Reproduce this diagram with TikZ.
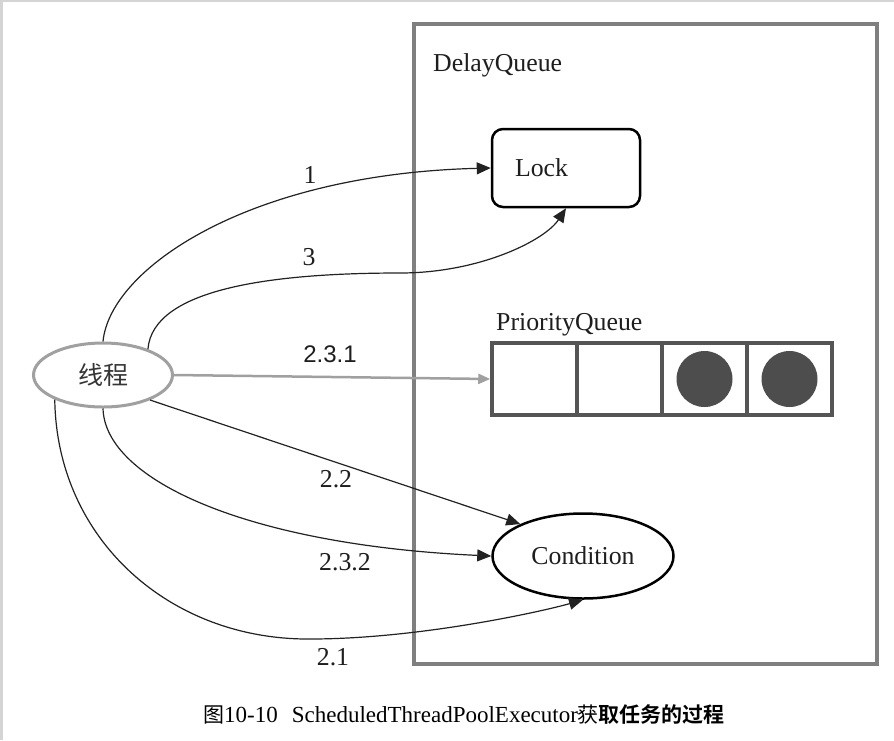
\documentclass[tikz,border=0pt]{standalone}
\usepackage{fontspec}
\setmainfont{Liberation Serif}
\newfontfamily\cjk{Noto Sans CJK SC}
\newfontfamily\cjkb{Noto Sans CJK SC Bold}
\newfontfamily\lsans{Liberation Sans}
\usetikzlibrary{shapes.geometric,arrows.meta}
\definecolor{boxgray}{HTML}{7F7F7F}
\definecolor{cellgray}{HTML}{555555}
\definecolor{dotgray}{HTML}{4D4D4D}
\definecolor{thgray}{HTML}{A0A0A0}
\definecolor{framegray}{HTML}{D4D4D4}
\definecolor{txt}{HTML}{1E1E1E}
\definecolor{lin}{HTML}{222222}
\begin{document}
\begin{tikzpicture}[x=1pt,y=-1pt,
  big/.style={font=\fontsize{25.8}{30}\selectfont, text=txt},
  lbl/.style={big, inner sep=0pt, anchor=base},
  conn/.style={line width=1.2pt, draw=lin, -{Triangle[length=14pt,width=12pt]}},
  cell/.style={draw=cellgray, line width=3.5pt, minimum width=85pt, minimum height=72pt, inner sep=0pt},
  dot/.style={circle, fill=dotgray, minimum size=56pt, inner sep=0pt}]
\useasboundingbox (0,0) rectangle (894,740);
\fill[white] (0,0) rectangle (894,740);
\fill[framegray] (0,0) rectangle (3,740);
\fill[framegray] (0,0) rectangle (894,2);

% DelayQueue container
\node[draw=boxgray, line width=3.5pt, minimum width=463pt, minimum height=640pt, inner sep=0pt] (dq) at (645.5,344) {};
\node[lbl, anchor=base west] (dqt) at (433,71) {DelayQueue};

% Lock
\node[draw=black, line width=2.5pt, rounded corners=11pt, minimum height=78pt,
      text width=102pt, align=left, inner xsep=23pt, big] (lock) at (566,168) {Lock};

% PriorityQueue
\node[lbl, anchor=base west] (pqt) at (496,330) {PriorityQueue};
\node[cell] (c1) at (534.5,379) {};
\node[cell] (c2) at (619.5,379) {};
\node[cell] (c3) at (704.5,379) {};
\node[cell] (c4) at (789.5,379) {};
\node[dot] (d3) at (c3.center) {};
\node[dot] (d4) at (c4.center) {};

% Condition
\node[ellipse, draw=black, line width=2.5pt, minimum width=181pt, minimum height=85pt, inner sep=0pt, big] (cond) at (583,556) {Condition};

% Thread
\node[ellipse, draw=thgray, line width=3pt, minimum width=139pt, minimum height=64pt, inner sep=0pt,
      font=\cjk\fontsize{25}{30}\selectfont, text=txt!90] (th) at (103,375) {线程};

% connectors
\draw[conn] (th.90) .. controls +(7,-73) and +(-242,6) .. (lock.west);
\coordinate (m3) at (400,273);
\draw[conn] (th.30) .. controls +(5,-60) and +(-130,0) .. (m3)
  .. controls +(80,0) and +(-21,32) .. (lock.south);
\draw[draw=thgray, line width=2.5pt, -{Triangle[length=12pt,width=10pt]}] (th.east) -- (c1.west);
\draw[conn] (th.-28) -- (cond.153);
\draw[conn] (th.south) .. controls +(2,72) and +(-242,-11) .. (cond.west);
\coordinate (m21) at (310,639);
\draw[conn] (th.207) .. controls +(2,140) and +(-140,1) .. (m21)
  .. controls +(110,0) and +(-38,11) .. (cond.south);

% labels
\node[lbl] (l1) at (310,183) {1};
\node[lbl] (l3) at (309,265) {3};
\node[lbl, font=\lsans\fontsize{24}{29}\selectfont] (l231) at (330,362) {2.3.1};
\node[lbl] (l22) at (336,487) {2.2};
\node[lbl] (l232) at (345,570) {2.3.2};
\node[lbl] (l21) at (333,665) {2.1};

% caption
\node[inner sep=0pt, anchor=base west, font=\fontsize{23}{27}\selectfont, text=black] (cap) at (203,722)
  {{\cjk\fontsize{21}{25}\selectfont 图}10-10\hspace{14pt}ScheduledThreadPoolExecutor{\cjk\fontsize{21}{25}\selectfont 获}{\cjkb\fontsize{21}{25}\selectfont 取任务的过程}};
\end{tikzpicture}
\end{document}
